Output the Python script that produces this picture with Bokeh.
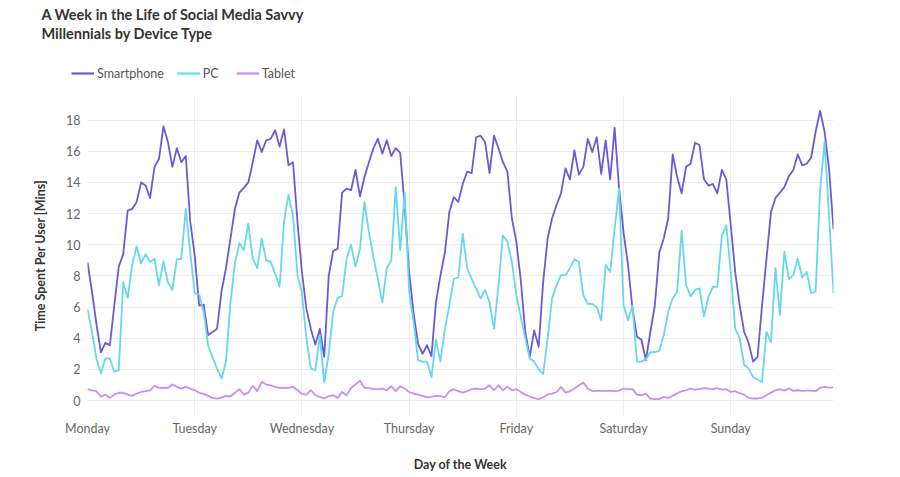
from bokeh.plotting import figure
from bokeh.layouts import column
from bokeh.models import Range1d, FixedTicker, Label, Legend, LegendItem
from bokeh.embed import file_html
from bokeh.resources import INLINE

days = ["Monday", "Tuesday", "Wednesday", "Thursday", "Friday", "Saturday", "Sunday"]
y_ticks = [0, 2, 4, 6, 8, 10, 12, 14, 16, 18]
title_lines = ["A Week in the Life of Social Media Savvy", "Millennials by Device Type"]
series_names = ["Smartphone", "PC", "Tablet"]
series_colors = ["#6b5bd2", "#66d8ee", "#c98df5"]

smartphone = [
    8.86, 7.0, 4.9, 3.1, 3.7, 3.55, 6.1, 8.6, 9.4, 12.2, 12.3, 12.75, 14.0, 13.8, 13.0, 15.0, 15.5, 17.6, 16.6, 15.0, 16.2, 15.3, 15.7, 11.5,
    9.3, 6.1, 6.15, 4.2, 4.4, 4.6, 7.0, 8.5, 10.4, 12.3, 13.35, 13.65, 14.0, 15.3, 16.7, 15.95, 16.7, 16.8, 17.35, 16.3, 17.4, 15.1, 15.3, 11.5,
    8.25, 5.9, 4.6, 3.6, 4.6, 2.8, 8.0, 9.6, 9.75, 13.35, 13.6, 13.5, 14.8, 13.1, 14.35, 15.3, 16.2, 16.8, 15.85, 16.7, 15.7, 16.2, 15.9, 12.5,
    8.25, 5.6, 3.65, 3.0, 3.55, 2.85, 6.3, 8.0, 9.5, 12.1, 13.05, 12.75, 13.9, 14.7, 14.6, 16.9, 17.0, 16.6, 14.6, 17.0, 16.2, 15.3, 14.7, 11.7,
    10.2, 7.7, 4.4, 2.8, 4.5, 3.45, 7.6, 10.4, 11.7, 12.55, 13.3, 14.9, 14.2, 16.05, 14.5, 15.0, 16.8, 15.95, 16.9, 14.55, 16.7, 14.2, 17.5, 13.6,
    10.8, 8.7, 5.9, 4.1, 3.9, 2.6, 4.4, 6.1, 9.5, 10.4, 11.7, 15.8, 14.35, 13.3, 15.0, 15.2, 16.55, 16.4, 14.2, 13.8, 13.9, 13.3, 14.8, 14.2,
    11.25, 8.25, 6.1, 4.4, 3.7, 2.5, 2.8, 6.1, 9.1, 12.1, 13.0, 13.35, 13.7, 14.4, 14.8, 15.8, 15.1, 15.2, 15.6, 17.25, 18.6, 17.25, 14.9, 11.0,
]

pc = [
    5.86, 4.4, 2.7, 1.73, 2.7, 2.7, 1.84, 1.95, 7.6, 6.6, 8.7, 9.9, 8.8, 9.4, 8.9, 9.1, 7.4, 8.95, 7.6, 7.1, 9.07, 9.1, 12.3, 9.5,
    6.9, 6.8, 5.7, 3.55, 2.75, 2.05, 1.4, 2.5, 6.3, 8.8, 10.1, 9.65, 11.35, 9.1, 8.5, 10.4, 9.0, 8.9, 8.15, 7.3, 11.5, 13.2, 11.9, 8.05,
    6.9, 4.0, 2.05, 1.95, 4.2, 1.15, 3.0, 5.7, 6.6, 6.7, 9.1, 10.0, 8.6, 9.75, 12.75, 10.8, 9.2, 7.8, 6.3, 8.5, 9.0, 13.7, 9.65, 13.35,
    7.0, 5.05, 2.6, 2.5, 2.5, 1.5, 3.9, 2.5, 4.6, 6.1, 7.8, 7.9, 10.7, 8.5, 7.8, 7.2, 6.55, 7.1, 6.3, 4.6, 7.4, 10.6, 10.2, 8.9,
    6.75, 5.35, 4.0, 2.7, 2.5, 2.0, 1.7, 4.0, 6.55, 7.4, 8.05, 8.05, 8.5, 9.07, 8.9, 6.76, 6.2, 6.2, 6.0, 5.15, 8.7, 8.25, 11.0, 13.6,
    6.1, 5.15, 6.1, 2.5, 2.5, 2.65, 3.1, 3.1, 3.2, 4.2, 5.7, 6.55, 7.0, 10.9, 7.4, 6.7, 7.1, 7.2, 5.4, 6.65, 7.3, 7.3, 10.6, 11.25,
    8.25, 4.6, 4.0, 2.3, 2.05, 1.5, 1.35, 1.2, 4.4, 3.75, 8.5, 5.5, 9.55, 7.8, 8.05, 9.1, 7.9, 8.25, 6.9, 7.0, 13.5, 16.6, 11.9, 6.9,
]

tablet = [
    0.73, 0.66, 0.6, 0.24, 0.38, 0.17, 0.38, 0.5, 0.5, 0.38, 0.3, 0.45, 0.55, 0.6, 0.66, 0.94, 0.81, 0.81, 0.81, 1.03, 0.88, 0.77, 0.88, 0.77,
    0.66, 0.5, 0.43, 0.3, 0.17, 0.13, 0.2, 0.3, 0.26, 0.5, 0.73, 0.38, 0.51, 0.94, 0.6, 1.2, 1.03, 0.98, 0.88, 0.81, 0.81, 0.81, 0.88, 0.66,
    0.43, 0.38, 0.66, 0.34, 0.24, 0.13, 0.28, 0.34, 0.17, 0.55, 0.34, 0.81, 1.03, 1.28, 0.81, 0.81, 0.73, 0.73, 0.77, 0.66, 0.92, 0.6, 0.92, 0.77,
    0.55, 0.45, 0.38, 0.3, 0.21, 0.24, 0.3, 0.28, 0.21, 0.6, 0.73, 0.6, 0.51, 0.6, 0.73, 0.77, 0.73, 0.77, 0.98, 0.66, 0.98, 0.66, 0.88, 0.66,
    0.73, 0.55, 0.38, 0.26, 0.15, 0.09, 0.21, 0.38, 0.45, 0.55, 0.88, 0.51, 0.6, 0.77, 0.98, 1.15, 0.77, 0.6, 0.62, 0.62, 0.62, 0.62, 0.6, 0.64,
    0.77, 0.73, 0.73, 0.38, 0.34, 0.43, 0.13, 0.09, 0.09, 0.24, 0.17, 0.3, 0.47, 0.6, 0.66, 0.77, 0.7, 0.73, 0.79, 0.77, 0.73, 0.79, 0.7, 0.73,
    0.55, 0.6, 0.47, 0.38, 0.17, 0.13, 0.13, 0.19, 0.34, 0.51, 0.66, 0.73, 0.64, 0.77, 0.62, 0.66, 0.62, 0.64, 0.64, 0.6, 0.81, 0.88, 0.83, 0.85,
]

hours = list(range(len(smartphone)))
hours_per_day = 24
series_values = [smartphone, pc, tablet]

FONT = "Lato"
W = 890

# ---------------- header: title + legend ----------------
header = figure(width=W, height=95, output_backend="svg", toolbar_location=None,
                x_axis_type=None, y_axis_type=None,
                x_range=Range1d(0, W), y_range=Range1d(95, 0),
                min_border_left=0, min_border_right=0, min_border_top=0, min_border_bottom=0)
try:
    header.frame_align = False
except Exception:
    pass
header.title.visible = False
header.outline_line_color = None
header.grid.visible = False

for txt, yy in zip(title_lines, (14, 33)):
    header.add_layout(Label(x=41, y=yy, text=txt, text_font=FONT, text_font_size="14.5px",
                            text_font_style="bold", text_color="#333333",
                            text_baseline="middle", text_align="left"))

items = []
for name, color, vals in zip(series_names, series_colors, series_values):
    r = header.line(hours, vals, line_color=color, line_width=2.2, visible=False)
    items.append(LegendItem(label=name, renderers=[r]))

legend = Legend(items=items, orientation="horizontal", location=(71, 13),
                padding=0, margin=0, spacing=13, glyph_width=23, glyph_height=18,
                label_standoff=3, border_line_color=None, background_fill_alpha=0,
                inactive_fill_alpha=0, click_policy="none",
                label_text_font=FONT, label_text_font_size="12.5px",
                label_text_color="#555555")
header.add_layout(legend, "center")

# ---------------- main chart ----------------
p = figure(width=W, height=379, output_backend="svg", toolbar_location=None,
           x_range=Range1d(0, len(hours) - 1), y_range=Range1d(-0.96, 19.58),
           min_border_left=87, min_border_right=57, min_border_top=0, min_border_bottom=59)
try:
    p.frame_align = False
except Exception:
    pass
p.title.visible = False
p.outline_line_color = None
p.background_fill_color = "white"
p.border_fill_color = "white"

for color, vals in zip(series_colors, series_values):
    p.line(hours, vals, line_color=color, line_width=1.8, line_join="round")

day_pos = [i * hours_per_day for i in range(len(days))]
p.xaxis.ticker = FixedTicker(ticks=day_pos)
p.xaxis.major_label_overrides = {pos: name for pos, name in zip(day_pos, days)}
p.yaxis.ticker = FixedTicker(ticks=y_ticks)

for ax in (p.xaxis[0], p.yaxis[0]):
    ax.axis_line_color = None
    ax.major_tick_line_color = None
    ax.minor_tick_line_color = None
    ax.major_tick_out = 0
    ax.major_tick_in = 0
    ax.minor_tick_out = 0
    ax.minor_tick_in = 0
    ax.major_label_text_font = FONT
    ax.major_label_text_font_size = "12.5px"
    ax.major_label_text_color = "#666666"
    ax.axis_label_text_font = FONT
    ax.axis_label_text_font_size = "12.5px"
    ax.axis_label_text_font_style = "bold"
    ax.axis_label_text_color = "#333333"

p.xaxis.axis_label = "Day of the Week"
p.xaxis.major_label_standoff = 5
p.xaxis.axis_label_standoff = 18
p.yaxis.axis_label = "Time Spent Per User [Mins]"
p.yaxis.major_label_standoff = 7
p.yaxis.axis_label_standoff = 15

p.xgrid.ticker = FixedTicker(ticks=day_pos)
p.ygrid.ticker = FixedTicker(ticks=y_ticks)
p.xgrid.grid_line_color = "#ececec"
p.ygrid.grid_line_color = "#ececec"

layout = column(header, p, spacing=0)
open("out.html", "w").write(file_html(layout, INLINE))
